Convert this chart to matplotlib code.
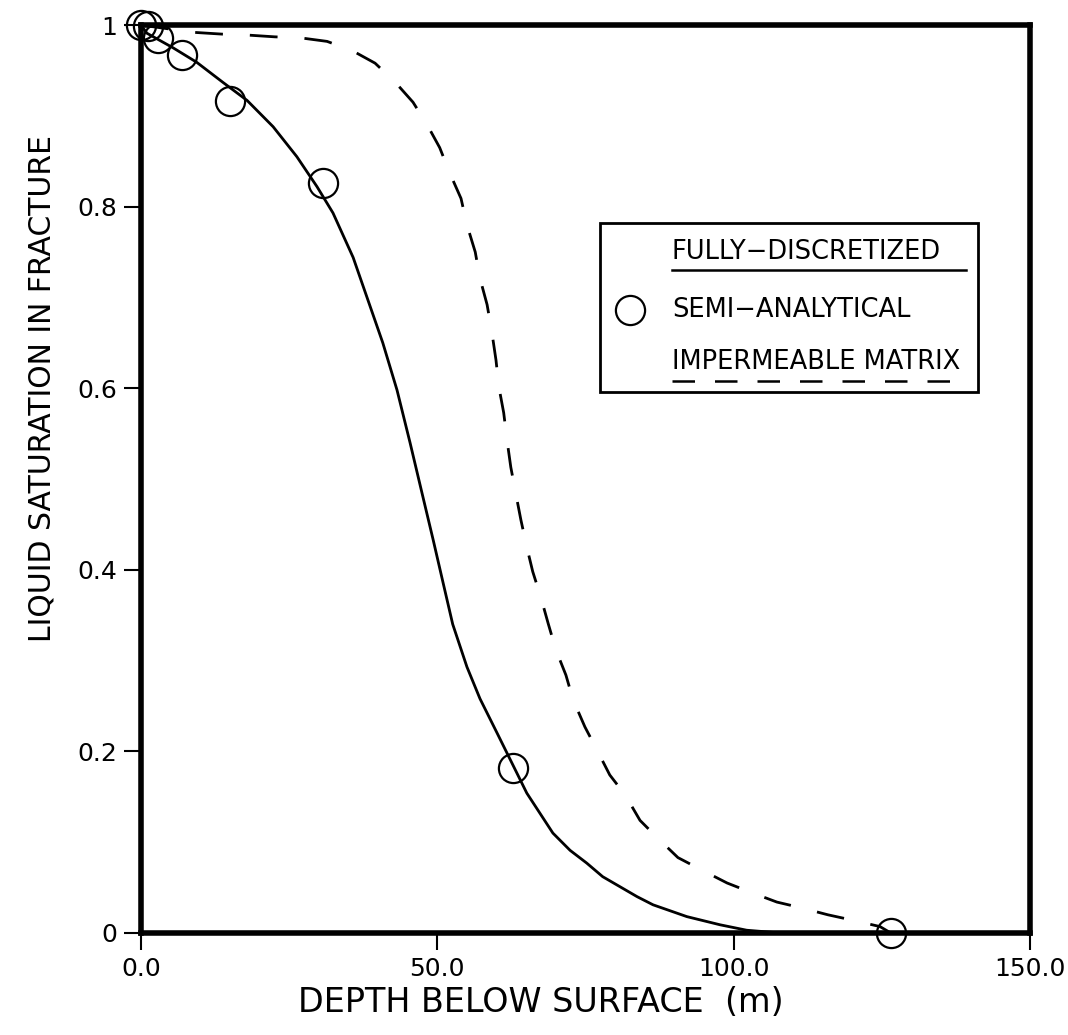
import numpy as np
import matplotlib
matplotlib.use('Agg')
import matplotlib.pyplot as plt

# fully-discretized solution (solid)
depth_full = [0.0, 1.0, 5.4, 9.4, 13.8, 17.9, 22.3, 26.3, 29.7, 32.4, 35.8, 38.3,
              40.8, 43.2, 45.4, 47.4, 49.3, 51.0, 52.6, 55.0, 57.2, 60.1, 62.3,
              65.1, 69.5, 72.4, 75.2, 77.9, 80.8, 83.7, 86.4, 92.1, 97.7, 102.2, 107.8]
sat_full = [1.0, 0.991, 0.975, 0.959, 0.937, 0.917, 0.888, 0.855, 0.822, 0.793, 0.744,
            0.697, 0.650, 0.598, 0.540, 0.485, 0.433, 0.385, 0.340, 0.293, 0.258,
            0.220, 0.191, 0.154, 0.110, 0.091, 0.077, 0.062, 0.051, 0.040, 0.031,
            0.018, 0.009, 0.003, 0.0]

# impermeable matrix (dashed)
depth_imp = [0.0, 8.8, 13.7, 17.9, 22.6, 26.8, 31.4, 35.6, 39.5, 42.9, 45.9, 48.3,
             50.4, 52.1, 54.0, 55.0, 56.4, 57.2, 58.4, 59.2, 59.9, 60.4, 61.2, 61.8,
             62.4, 63.3, 64.1, 65.1, 66.1, 67.5, 68.7, 70.0, 71.7, 72.9, 74.9, 76.9,
             79.1, 81.7, 84.2, 87.1, 90.6, 94.7, 98.9, 102.8, 107.3, 111.2, 115.9,
             120.1, 124.7, 126.5]
sat_imp = [1.0, 0.992, 0.990, 0.989, 0.987, 0.986, 0.982, 0.972, 0.958, 0.937, 0.915,
           0.890, 0.865, 0.837, 0.809, 0.780, 0.750, 0.721, 0.692, 0.662, 0.631,
           0.601, 0.573, 0.541, 0.513, 0.482, 0.455, 0.425, 0.398, 0.369, 0.341,
           0.312, 0.284, 0.257, 0.227, 0.202, 0.174, 0.152, 0.124, 0.105, 0.083,
           0.069, 0.055, 0.045, 0.034, 0.028, 0.020, 0.014, 0.007, 0.0]

# semi-analytical points (circles)
depth_semi = [0.0, 1.2, 2.9, 6.9, 15.0, 30.7, 62.8, 126.5]
sat_semi = [1.0, 0.999, 0.986, 0.967, 0.916, 0.826, 0.182, 0.0]

xticks = [0, 50, 100, 150]
xlabels = ['0.0', '50.0', '100.0', '150.0']
yticks = [0, 0.2, 0.4, 0.6, 0.8, 1.0]
ylabels = ['0', '0.2', '0.4', '0.6', '0.8', '1']

fig = plt.figure(figsize=(10.68, 10.35), dpi=100)
ax = fig.add_axes([0.132, 0.0986, 0.8324, 0.8772])

ax.plot(depth_full, sat_full, color='black', lw=2)
ax.plot(depth_imp, sat_imp, color='black', lw=2, dashes=(10, 9.7))
ax.plot(depth_semi, sat_semi, 'o', ms=21, mfc='none', mec='black', mew=1.6, clip_on=False)

ax.set_xlim(0, 150)
ax.set_ylim(0, 1)
ax.set_xticks(xticks)
ax.set_xticklabels(xlabels)
ax.set_yticks(yticks)
ax.set_yticklabels(ylabels)
ax.tick_params(direction='out', length=12, width=1.5, labelsize=18, pad=5)
for s in ax.spines.values():
    s.set_linewidth(4)

ax.set_xlabel('DEPTH BELOW SURFACE  (m)', fontsize=24)
ax.xaxis.set_label_coords(0.45, -0.077)
ax.xaxis.label.set_va('center')
ax.set_ylabel('LIQUID SATURATION IN FRACTURE', fontsize=21.5)
ax.yaxis.set_label_coords(-0.111, 0.6)
ax.yaxis.label.set_va('center')

# legend box drawn by hand
tr = ax.transAxes
def px(x, y):
    return ((x - 141) / 889, (933 - y) / 908)

bx0, by0 = px(600, 392)
bx1, by1 = px(978, 223)
ax.add_patch(plt.Rectangle((bx0, by0), bx1 - bx0, by1 - by0, transform=tr,
                           fill=False, lw=2, ec='black'))
tx, ty1 = px(672, 252)
_, ty2 = px(672, 310)
_, ty3 = px(672, 362)
ax.text(tx, ty1, 'FULLY\u2212DISCRETIZED', transform=tr, fontsize=18.5, va='center')
ax.text(tx, ty2, 'SEMI\u2212ANALYTICAL', transform=tr, fontsize=18.5, va='center')
ax.text(tx, ty3, 'IMPERMEABLE MATRIX', transform=tr, fontsize=18.5, va='center')
ux0, uy1 = px(672, 270)
ux1, _ = px(966, 270)
ax.plot([ux0, ux1], [uy1, uy1], transform=tr, color='black', lw=1.8)
_, uy3 = px(672, 381)
ux3, _ = px(962, 381)
ax.plot([ux0, ux3], [uy3, uy3], transform=tr, color='black', lw=1.8, dashes=(9, 8))
cx, cy = px(630, 310)
ax.plot([cx], [cy], 'o', transform=tr, ms=21, mfc='none', mec='black', mew=1.6)

fig.savefig('out.png', dpi=100)
